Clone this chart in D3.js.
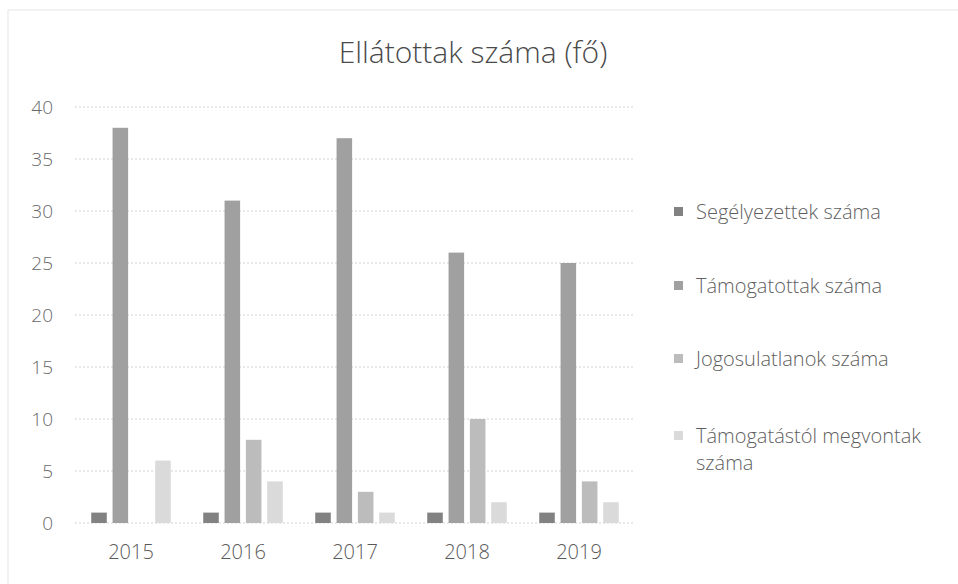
<!DOCTYPE html>
<html>
<head>
<meta charset="utf-8">
<script src="https://cdn.jsdelivr.net/npm/d3@7"></script>
<style>
  body { margin: 0; background: #fff; }
  svg { display: block; font-family: "Open Sans", Lato, sans-serif; }
</style>
</head>
<body>
<svg id="chart" width="958" height="584"></svg>
<script>
'use strict';

const years = ['2015', '2016', '2017', '2018', '2019'];
const seriesNames = [
    'Segélyezettek száma',
    'Támogatottak száma',
    'Jogosulatlanok száma',
    'Támogatástól megvontak száma'
];
const segelyezettek = [1, 1, 1, 1, 1];
const tamogatottak = [38, 31, 37, 26, 25];
const jogosulatlanok = [0, 8, 3, 10, 4];
const megvontak = [6, 4, 1, 2, 2];
const yTicks = [0, 5, 10, 15, 20, 25, 30, 35, 40];

const colours = ['#828282', '#a0a0a0', '#bcbcbc', '#dadada'];
const seriesValues = [segelyezettek, tamogatottak, jogosulatlanok, megvontak];

const margin = {top: 107, left: 75, right: 323, bottom: 61};
const svg = d3.select('#chart');
const W = +svg.attr('width');
const H = +svg.attr('height');
const plotW = W - margin.left - margin.right;
const plotH = H - margin.top - margin.bottom;

// faint frame of the scanned chart area
svg.append('rect')
    .attr('x', 8).attr('y', 10)
    .attr('width', 990).attr('height', 600)
    .attr('fill', 'none')
    .attr('stroke', '#e6e6e6');

const g = svg.append('g').attr('transform', `translate(${margin.left},${margin.top})`);

const x0 = d3.scaleBand().domain(years).range([0, plotW]).paddingInner(0.29).paddingOuter(0.145);
const x1 = d3.scaleBand().domain(d3.range(seriesNames.length)).range([0, x0.bandwidth()])
    .paddingInner(0.27).paddingOuter(0);
const y = d3.scaleLinear().domain([0, 40]).range([plotH, 0]);

// gridlines
g.append('g')
    .selectAll('line')
    .data(yTicks)
    .enter()
    .append('line')
    .attr('x1', 0)
    .attr('x2', plotW)
    .attr('y1', (d) => y(d))
    .attr('y2', (d) => y(d))
    .attr('stroke', '#d2d2d2')
    .attr('stroke-dasharray', '2,2');

// y axis labels
const yAxis = g.append('g')
    .call(d3.axisLeft(y).tickValues(yTicks).tickSize(0).tickPadding(22));
yAxis.select('.domain').remove();
yAxis.selectAll('text')
    .attr('fill', '#6a6a6a')
    .style('font-size', '19px')
    .style('font-weight', 300)
    .style('font-family', '"Open Sans", sans-serif');

// x axis labels
const xAxis = g.append('g')
    .attr('transform', `translate(0,${plotH})`)
    .call(d3.axisBottom(x0).tickSize(0).tickPadding(22));
xAxis.select('.domain').remove();
xAxis.selectAll('text')
    .attr('fill', '#5a5a5a')
    .style('font-size', '20px')
    .style('font-weight', 300)
    .style('font-family', '"Open Sans", sans-serif');

// bars, grouped by year
const groups = g.selectAll('g.year')
    .data(years)
    .enter()
    .append('g')
    .attr('class', 'year')
    .attr('transform', (d) => `translate(${x0(d)},0)`);

groups.selectAll('rect')
    .data((d, i) => seriesValues.map((vals, s) => ({s: s, v: vals[i]})))
    .enter()
    .append('rect')
    .attr('x', (d) => x1(d.s))
    .attr('y', (d) => y(d.v))
    .attr('width', x1.bandwidth())
    .attr('height', (d) => plotH - y(d.v))
    .attr('fill', (d) => colours[d.s]);

// title
svg.append('text')
    .attr('x', 473)
    .attr('y', 63)
    .attr('text-anchor', 'middle')
    .attr('fill', '#4a4a4a')
    .style('font-size', '30px')
    .style('font-weight', 300)
    .text('Ellátottak száma (fő)');

// legend
const legendY = [212, 286, 359, 436];
const legend = svg.append('g')
    .selectAll('g')
    .data(seriesNames)
    .enter()
    .append('g')
    .attr('transform', (d, i) => `translate(674,${legendY[i]})`);

legend.append('rect')
    .attr('x', 0).attr('y', -5)
    .attr('width', 9).attr('height', 9)
    .attr('fill', (d, i) => colours[i]);

legend.append('text')
    .attr('x', 22)
    .attr('y', 7)
    .attr('fill', '#5f5f5f')
    .style('font-size', '20px')
    .style('font-weight', 300)
    .each(function(d) {
        let t = d3.select(this);
        let words = d.split(' ');
        if(d.length > 24) {
            t.append('tspan').attr('x', 22).text(words.slice(0, 2).join(' '));
            t.append('tspan').attr('x', 22).attr('dy', 27).text(words.slice(2).join(' '));
        }
        else {
            t.text(d);
        }
    });
</script>
</body>
</html>
